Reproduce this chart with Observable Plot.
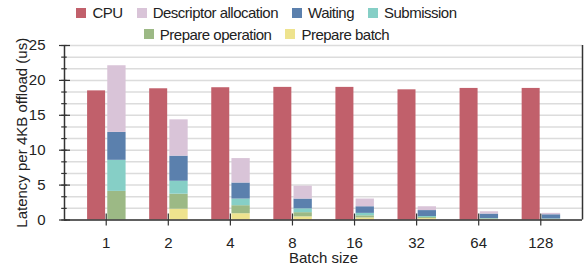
<!DOCTYPE html>
<html>
<head>
<meta charset="utf-8">
<script src="https://cdn.jsdelivr.net/npm/d3@7"></script>
<script src="https://cdn.jsdelivr.net/npm/@observablehq/plot@0.6"></script>
<style>
  body { margin: 0; background: #fff; font-family: "Liberation Sans", Arial, sans-serif; color: #222; }
  #legend { position: relative; width: 587px; height: 40px; font-size: 15px; letter-spacing: -0.5px; }
  .row { position: absolute; left: 0; width: 533px; display: flex; justify-content: center; gap: 14px; line-height: 17px; }
  .item { display: flex; align-items: center; white-space: nowrap; }
  .sw { width: 10px; height: 10px; margin-right: 6px; }
  #chart svg { display: block; overflow: visible; }
</style>
</head>
<body>
<div id="legend"></div>
<div id="chart"></div>
<script>
// ---- data ----
const batchSizes = ["1", "2", "4", "8", "16", "32", "64", "128"];
const cpu          = [18.5, 18.8, 18.95, 19.0, 19.0, 18.65, 18.85, 18.85];
const prepareBatch = [0, 1.55, 0.9, 0.45, 0.3, 0.2, 0.07, 0.05];
const prepareOp    = [4.1, 2.15, 1.15, 0.6, 0.3, 0.15, 0.07, 0.05];
const submission   = [4.45, 1.85, 0.95, 0.55, 0.35, 0.15, 0.06, 0.05];
const waiting      = [4.0, 3.6, 2.3, 1.4, 0.95, 0.85, 0.65, 0.6];
const descriptor   = [9.55, 5.2, 3.5, 1.85, 1.1, 0.55, 0.33, 0.2];

const seriesNames = ["CPU", "Descriptor allocation", "Waiting", "Submission", "Prepare operation", "Prepare batch"];
const seriesColors = ["#c1606b", "#d9c4d8", "#5b80ad", "#86cfc6", "#9cb985", "#eee38e"];
const yMajorTicks = [0, 5, 10, 15, 20, 25];
const yMinorTicks = d3.range(0, 16).map(k => k * 5 / 3);
const yLabel = "Latency per 4KB offload (us)";
const xLabel = "Batch size";

// ---- legend ----
const legendRows = [[0, 1, 2, 3], [4, 5]];
const legend = document.getElementById("legend");
legendRows.forEach((row, r) => {
  const div = document.createElement("div");
  div.className = "row";
  div.style.top = (r === 0 ? 4 : 25.5) + "px";
  row.forEach(k => {
    const it = document.createElement("div");
    it.className = "item";
    const sw = document.createElement("span");
    sw.className = "sw";
    sw.style.background = seriesColors[k];
    it.appendChild(sw);
    it.appendChild(document.createTextNode(seriesNames[k]));
    div.appendChild(it);
  });
  legend.appendChild(div);
});

// ---- tables ----
const cpuRows = batchSizes.map((b, i) => ({i, name: "CPU", y1: 0, y2: cpu[i]}));
const stackOrder = [
  ["Prepare batch", prepareBatch],
  ["Prepare operation", prepareOp],
  ["Submission", submission],
  ["Waiting", waiting],
  ["Descriptor allocation", descriptor]
];
const stackRows = [];
batchSizes.forEach((b, i) => {
  let acc = 0;
  stackOrder.forEach(([name, arr]) => {
    const v = arr[i];
    if (v > 0) stackRows.push({i, name, y1: acc, y2: acc + v});
    acc += v;
  });
});

const xmin = -0.672, xmax = 7.672;
const n = batchSizes.length;

const chart = Plot.plot({
  width: 587,
  height: 228,
  marginTop: 5,
  marginBottom: 48.5,
  marginLeft: 64,
  marginRight: 5,
  style: {fontFamily: "'Liberation Sans', Arial, sans-serif", fontSize: "15px", color: "#222", background: "#fff"},
  x: {type: "linear", domain: [xmin, xmax], axis: null},
  y: {domain: [0, 25], axis: null},
  color: {domain: seriesNames, range: seriesColors},
  marks: [
    Plot.gridY(yMinorTicks, {stroke: "#dcdcdc", strokeOpacity: 1, strokeWidth: 1.5}),
    Plot.rectY(cpuRows, {x1: d => d.i - 0.3, x2: d => d.i - 0.01, y1: "y1", y2: "y2", fill: "name"}),
    Plot.rectY(stackRows, {x1: d => d.i + 0.025, x2: d => d.i + 0.32, y1: "y1", y2: "y2", fill: "name"}),
    // frame lines
    Plot.ruleX([xmin], {stroke: "#333", strokeWidth: 1.5}),
    Plot.ruleX([xmax], {stroke: "#333", strokeWidth: 1.5}),
    Plot.ruleY([0], {stroke: "#333", strokeWidth: 1.5}),
    // y ticks
    Plot.axisY(yMinorTicks, {text: null, tickSize: 5.5, dx: 2.7, stroke: "#333", strokeWidth: 1.2}),
    Plot.axisY(yMajorTicks, {text: null, tickSize: 11, dx: 6, stroke: "#333", strokeWidth: 1.2}),
    Plot.axisY(yMajorTicks, {tickSize: 0, tickPadding: 19, fontSize: 15, label: null, fill: "#222"}),
    // x ticks
    Plot.axisX(d3.range(n), {text: null, tickSize: 12, dy: -6, stroke: "#333", strokeWidth: 1.2}),
    Plot.axisX(d3.range(n), {tickSize: 0, tickPadding: 17, tickFormat: i => batchSizes[i], fontSize: 15, label: null, fill: "#222"}),
    // axis titles
    Plot.text([xLabel], {frameAnchor: "bottom", lineAnchor: "middle", dy: 38.2, fontSize: 15, fill: "#222"}),
    Plot.text([yLabel], {frameAnchor: "left", lineAnchor: "middle", textAnchor: "middle", rotate: -90, dx: -42.3, fontSize: 15, fill: "#222"})
  ]
});
document.getElementById("chart").appendChild(chart);
</script>
</body>
</html>
